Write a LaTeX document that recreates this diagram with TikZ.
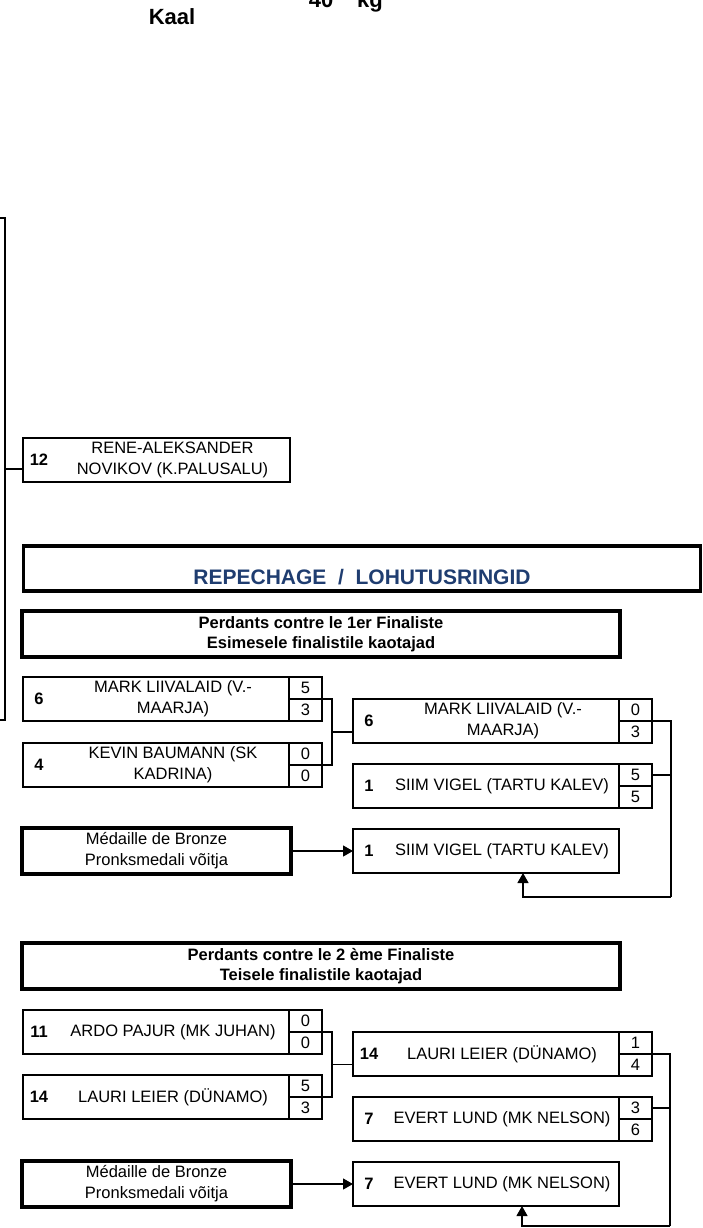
\documentclass[tikz,border=0pt]{standalone}
\usepackage{fontspec}
\setmainfont{Liberation Sans}
\usepackage{tikz}
\usetikzlibrary{positioning,calc,arrows.meta}
\definecolor{repblue}{HTML}{1F3D70}

\begin{document}
\begin{tikzpicture}[x=1pt, y=-1pt,
    name box/.style={rectangle, draw, line width=1.6pt, outer sep=0pt, inner sep=0pt, minimum width=266pt, minimum height=44pt},
    score box/.style={rectangle, draw, line width=1.3pt, outer sep=0pt, inner sep=0pt, minimum width=33pt, minimum height=22pt, font=\fontsize{16.5}{21}\selectfont},
    seed/.style={inner sep=0pt, font=\fontsize{16.5}{21}\selectfont\bfseries},
    player/.style={inner sep=0pt, align=center, font=\fontsize{16.5}{21}\selectfont},
    head box/.style={rectangle, draw, line width=3.2pt, outer sep=0pt, align=center, font=\fontsize{16.5}{20}\selectfont\bfseries},
    big text/.style={inner sep=0pt, anchor=base, font=\fontsize{22}{26}\selectfont\bfseries},
    link/.style={line width=1.2pt},
    win arrow/.style={-{Triangle[length=10pt,width=11pt]}}]

    \useasboundingbox (0,0) rectangle (702,1228);

    \node [big text] (kaal) at (172,25) {Kaal};
    \node [big text] (weight) at (321,7.5) {40};
    \node [big text] (unit) at (370,7.5) {kg};

    \node [rectangle, draw, line width=1.2pt, outer sep=0pt, minimum width=40pt, minimum height=502pt, anchor=east] (pool) at (5,469) {};

    \node [name box, minimum width=267pt] (rene) at (156.5,460) {};
    \node [seed] (reneno) at ([xshift=16pt]rene.west) {12};
    \node [player] (renenm) at ([xshift=16pt]rene.center) {RENE-ALEKSANDER\\NOVIKOV (K.PALUSALU)};
    \draw [link] (pool.east) -- (pool.east -| rene.west);

    \node [head box, minimum width=677pt, minimum height=45pt] (rep) at (362,568.5) {};
    \node [inner sep=0pt, text=repblue, font=\fontsize{21}{24}\selectfont\bfseries] (reptitle) at ([yshift=-8.5pt]rep.center) {REPECHAGE~~/~~LOHUTUSRINGID};

    % first finalist
    \node [head box, minimum width=598pt, minimum height=46pt] (per1) at (321,634) {Perdants contre le 1er Finaliste\\Esimesele finalistile kaotajad};

    \node [name box] (m1) at (156,699) {};
    \node [seed] (m1no) at ([xshift=16pt]m1.west) {6};
    \node [player] (m1nm) at ([xshift=17pt]m1.center) {MARK LIIVALAID (V.-\\MAARJA)};
    \node [score box, below right=0pt and 0pt of m1.north east] (m1a) {5};
    \node [score box, below=0pt of m1a] (m1b) {3};

    \node [name box, below=22pt of m1] (k1) {};
    \node [seed] (k1no) at ([xshift=16pt]k1.west) {4};
    \node [player] (k1nm) at ([xshift=17pt]k1.center) {KEVIN BAUMANN (SK\\KADRINA)};
    \node [score box, below right=0pt and 0pt of k1.north east] (k1a) {0};
    \node [score box, below=0pt of k1a] (k1b) {0};

    \node [name box] (m2) at (486,721) {};
    \node [seed] (m2no) at ([xshift=16pt]m2.west) {6};
    \node [player] (m2nm) at ([xshift=17pt]m2.center) {MARK LIIVALAID (V.-\\MAARJA)};
    \node [score box, below right=0pt and 0pt of m2.north east] (m2a) {0};
    \node [score box, below=0pt of m2a] (m2b) {3};

    \node [name box, below=21pt of m2] (s1) {};
    \node [seed] (s1no) at ([xshift=16pt]s1.west) {1};
    \node [player] (s1nm) at ([xshift=16pt]s1.center) {SIIM VIGEL (TARTU KALEV)};
    \node [score box, below right=0pt and 0pt of s1.north east] (s1a) {5};
    \node [score box, below=0pt of s1a] (s1b) {5};

    \node [name box, below=21pt of s1] (f1) {};
    \node [seed] (f1no) at ([xshift=16pt]f1.west) {1};
    \node [player] (f1nm) at ([xshift=16pt]f1.center) {SIIM VIGEL (TARTU KALEV)};

    \node [head box, minimum width=269pt, minimum height=46pt, font=\fontsize{16.5}{21}\selectfont, left=62pt of f1] (med1) {Médaille de Bronze\\Pronksmedali võitja};

    \draw [link] (m1a.south east) -- ++(10pt,0pt) |- (k1a.south east);
    \coordinate (j1) at ($(m1a.south east)!.5!(k1a.south east)+(10pt,0pt)$);
    \draw [link] (j1) -- (j1 -| m2.west);
    \coordinate (r1) at (671,897);
    \draw [link] (m2a.south east) -| (r1);
    \draw [link] (s1a.east) -- (s1a.east -| r1);
    \draw [link, win arrow] (r1) -| ([xshift=37pt]f1.south);
    \draw [link, win arrow] (med1) -- (f1);

    % second finalist
    \node [head box, minimum width=598pt, minimum height=46pt] (per2) at (321,966) {Perdants contre le 2 ème Finaliste\\Teisele finalistile kaotajad};

    \node [name box] (a1) at (156,1032) {};
    \node [seed] (a1no) at ([xshift=16pt]a1.west) {11};
    \node [player] (a1nm) at ([xshift=17pt]a1.center) {ARDO PAJUR (MK JUHAN)};
    \node [score box, below right=0pt and 0pt of a1.north east] (a1a) {0};
    \node [score box, below=0pt of a1a] (a1b) {0};

    \node [name box, below=21pt of a1] (l1) {};
    \node [seed] (l1no) at ([xshift=16pt]l1.west) {14};
    \node [player] (l1nm) at ([xshift=17pt]l1.center) {LAURI LEIER (DÜNAMO)};
    \node [score box, below right=0pt and 0pt of l1.north east] (l1a) {5};
    \node [score box, below=0pt of l1a] (l1b) {3};

    \node [name box] (l2) at (486,1054) {};
    \node [seed] (l2no) at ([xshift=16pt]l2.west) {14};
    \node [player] (l2nm) at ([xshift=16pt]l2.center) {LAURI LEIER (DÜNAMO)};
    \node [score box, below right=0pt and 0pt of l2.north east] (l2a) {1};
    \node [score box, below=0pt of l2a] (l2b) {4};

    \node [name box, below=21pt of l2] (e1) {};
    \node [seed] (e1no) at ([xshift=16pt]e1.west) {7};
    \node [player] (e1nm) at ([xshift=16pt]e1.center) {EVERT LUND (MK NELSON)};
    \node [score box, below right=0pt and 0pt of e1.north east] (e1a) {3};
    \node [score box, below=0pt of e1a] (e1b) {6};

    \node [name box, below=21pt of e1] (f2) {};
    \node [seed] (f2no) at ([xshift=16pt]f2.west) {7};
    \node [player] (f2nm) at ([xshift=16pt]f2.center) {EVERT LUND (MK NELSON)};

    \node [head box, minimum width=269pt, minimum height=46pt, font=\fontsize{16.5}{21}\selectfont, left=62pt of f2] (med2) {Médaille de Bronze\\Pronksmedali võitja};

    \draw [link] (a1a.south east) -- ++(10pt,0pt) |- (l1a.south east);
    \coordinate (j2) at ($(a1a.south east)!.5!(l1a.south east)+(10pt,0pt)$);
    \draw [link] (j2) -- (j2 -| l2.west);
    \coordinate (r2) at (670,1226);
    \draw [link] (l2a.south east) -| (r2);
    \draw [link] (e1a.east) -- (e1a.east -| r2);
    \draw [link, win arrow] (r2) -| ([xshift=36pt]f2.south);
    \draw [link, win arrow] (med2) -- (f2);

\end{tikzpicture}
\end{document}
